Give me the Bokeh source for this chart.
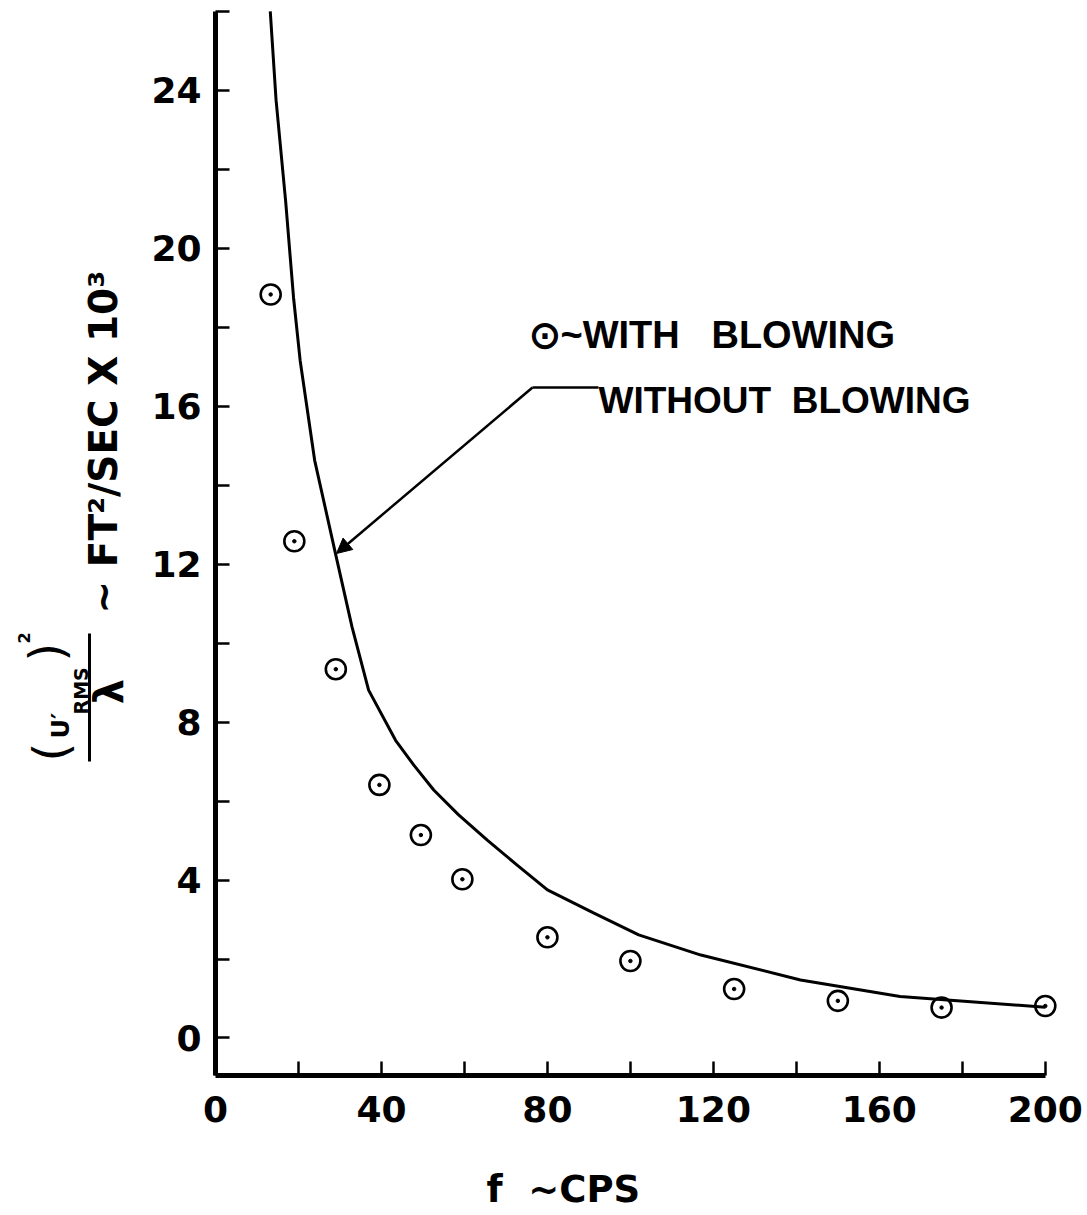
import math
from bokeh.plotting import figure
from bokeh.layouts import row
from bokeh.models import Range1d, FixedTicker, Label, Arrow, NormalHead
from bokeh.embed import file_html
from bokeh.resources import INLINE

# ---- data ----
freq_curve = [13.2, 14.6, 16.9, 18.8, 20.4, 23.9, 29.0, 32.9, 36.9, 43.4, 47.8, 52.6,
              58.6, 65.5, 72.7, 80.0, 91.1, 102.0, 117.0, 141.0, 165.0, 200.0]
spec_without = [26.0, 23.75, 21.2, 18.76, 17.16, 14.63, 12.23, 10.41, 8.81, 7.54, 6.91, 6.28,
                5.65, 5.01, 4.38, 3.75, 3.17, 2.61, 2.10, 1.47, 1.05, 0.78]

freq_pts = [13.3, 19.0, 29.0, 39.5, 49.5, 59.5, 80.0, 100.0, 125.0, 150.0, 175.0, 200.0]
spec_with = [18.83, 12.58, 9.34, 6.41, 5.14, 4.02, 2.55, 1.95, 1.24, 0.94, 0.77, 0.81]

x_major = [0, 40, 80, 120, 160, 200]
x_minor = [20, 60, 100, 140, 180]
y_major = [0, 4, 8, 12, 16, 20, 24]
y_minor = [2, 6, 10, 14, 18, 22, 26]

# ---- layout ----
W, H = 1087, 1215
LW = 140            # left title strip width
ML, MR, MT = 75, 9, 1
FW, FH = W - LW - ML - MR, 1074
MB = H - MT - FH
X0, X1 = 0, 208
Y0, Y1 = -0.95, 26.25
SX = FW / (X1 - X0)
SY = FH / (Y1 - Y0)


def X(px):
    return X0 + (px - LW - ML) / SX


def Y(py):
    return Y1 - (py - MT) / SY


TICK_FONT = "DejaVu Sans"
TXT = "Liberation Sans"
NB = "\u00a0"

p = figure(frame_width=FW, frame_height=FH, output_backend="svg", toolbar_location=None,
           title=None, x_range=Range1d(X0, X1), y_range=Range1d(Y0, Y1),
           min_border_left=ML, min_border_right=MR,
           min_border_top=MT, min_border_bottom=MB)
p.outline_line_color = None
p.xgrid.visible = False
p.ygrid.visible = False
p.background_fill_color = "white"
p.border_fill_color = "white"

for ax in (p.xaxis[0], p.yaxis[0]):
    ax.axis_line_width = 5
    ax.axis_line_color = "black"
    ax.major_tick_in = 14
    ax.major_tick_out = 0
    ax.minor_tick_in = 14
    ax.minor_tick_out = 0
    ax.major_tick_line_width = 2.5
    ax.minor_tick_line_width = 2.5
    ax.major_tick_line_color = "black"
    ax.minor_tick_line_color = "black"
    ax.major_label_text_font = TICK_FONT
    ax.major_label_text_font_style = "bold"
    ax.major_label_text_font_size = "36px"
    ax.major_label_text_color = "black"

p.xaxis[0].ticker = FixedTicker(ticks=x_major, minor_ticks=x_minor)
p.yaxis[0].ticker = FixedTicker(ticks=y_major, minor_ticks=y_minor)
p.xaxis[0].bounds = (0, 200)
p.yaxis[0].bounds = (Y0, 26)
p.xaxis[0].major_label_standoff = 20
p.yaxis[0].major_label_standoff = 14

# x axis title (trailing no-break spaces shift it left like the reference)
p.xaxis[0].axis_label = "f" + NB * 2 + "~CPS" + NB * 13
p.xaxis[0].axis_label_text_font = TICK_FONT
p.xaxis[0].axis_label_text_font_style = "bold"
p.xaxis[0].axis_label_text_font_size = "37px"
p.xaxis[0].axis_label_text_color = "black"
p.xaxis[0].axis_label_standoff = 43

# ---- data marks ----
p.line(freq_curve, spec_without, line_color="black", line_width=3)
p.scatter(freq_pts, spec_with, marker="circle", size=20, fill_color=None,
          line_color="black", line_width=2.6)
p.scatter(freq_pts, spec_with, marker="circle", size=3.5, fill_color="black",
          line_color="black")

# ---- annotations in the plot ----
p.add_layout(Label(x=X(528), y=Y(334), text="\u2299~WITH" + NB * 3 + "BLOWING", text_font=TXT,
                   text_font_style="bold", text_font_size="38px",
                   text_baseline="alphabetic", text_align="left", text_color="black"))
p.add_layout(Label(x=X(598), y=Y(400), text="WITHOUT" + NB + " BLOWING", text_font=TXT,
                   text_font_style="bold", text_font_size="37px",
                   text_baseline="alphabetic", text_align="left", text_color="black"))
p.add_layout(Arrow(end=None, x_start=X(532), y_start=Y(387), x_end=X(598), y_end=Y(387),
                   line_color="black", line_width=2.5))
p.add_layout(Arrow(end=NormalHead(size=15, fill_color="black", line_color="black", line_width=1),
                   x_start=X(532), y_start=Y(387), x_end=X(336), y_end=Y(553),
                   line_color="black", line_width=2.5))

# ---- y axis title (rotated, composed) in a left strip ----
yt = figure(frame_width=LW, frame_height=H, output_backend="svg", toolbar_location=None,
            title=None, x_range=Range1d(0, LW), y_range=Range1d(0, H),
            x_axis_type=None, y_axis_type=None,
            min_border=0, min_border_left=0, min_border_right=0,
            min_border_top=0, min_border_bottom=0)
yt.outline_line_color = None
yt.xgrid.visible = False
yt.ygrid.visible = False
yt.background_fill_color = "white"
yt.border_fill_color = "white"
A = math.pi / 2


def vlab(px, py, text, size, align="left", baseline="alphabetic", style="bold"):
    yt.add_layout(Label(x=px, y=H - py, text=text, angle=A, text_font=TICK_FONT,
                        text_font_style=style, text_font_size=size,
                        text_align=align, text_baseline=baseline, text_color="black"))


vlab(50, 760, "(", "48px", baseline="middle", style="normal")
vlab(60, 737, "U\u2032", "24px")
vlab(80, 713, "RMS", "19px")
vlab(46, 660, ")", "48px", baseline="middle", style="normal")
vlab(23, 642, "2", "16px")
vlab(108, 690, "\u03bb", "40px", align="center", baseline="middle")
yt.add_layout(Arrow(end=None, x_start=89, y_start=H - 760, x_end=89, y_end=H - 632,
                    line_color="black", line_width=3))
vlab(103, 612, "~" + NB + "FT\u00b2/SEC X 10\u00b3", "39px")

layout = row(yt, p, spacing=0)
open("out.html", "w").write(file_html(layout, INLINE))
